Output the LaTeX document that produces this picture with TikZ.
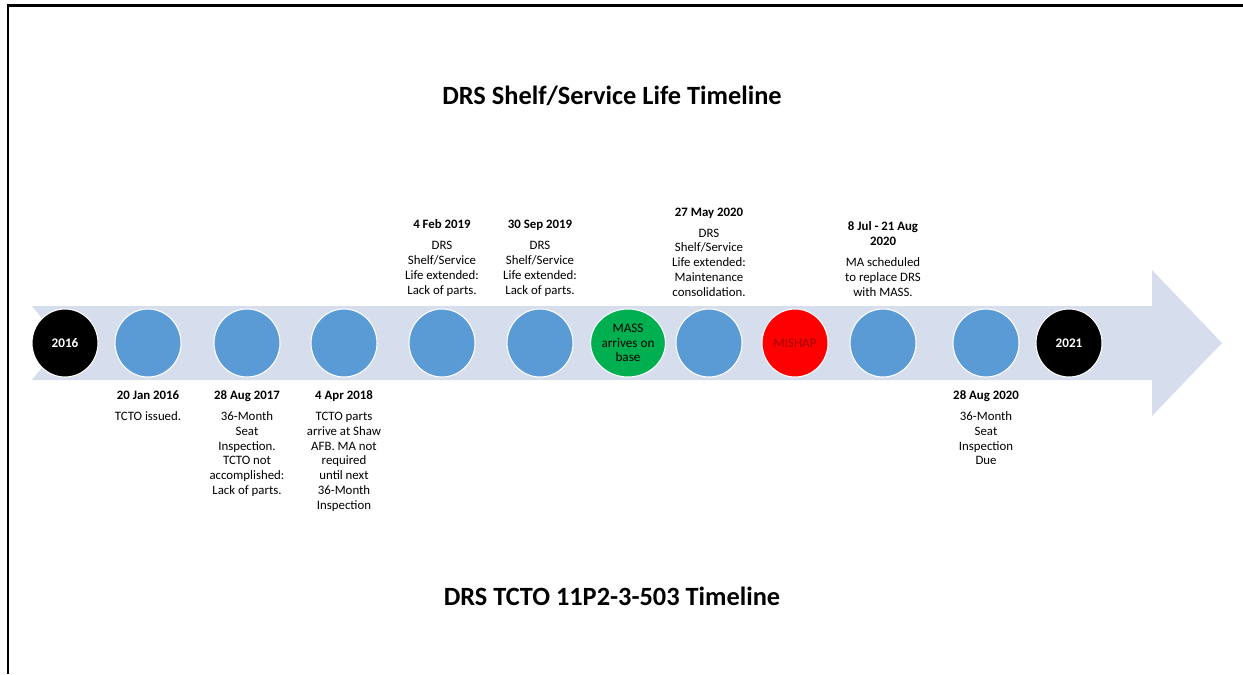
\documentclass[tikz,border=0pt]{standalone}
\usepackage{fontspec}
\setmainfont{Carlito}
\usetikzlibrary{positioning,shapes.geometric}
\definecolor{TLarrow}{RGB}{214, 222, 238}
\definecolor{TLblue}{RGB}{91, 155, 213}
\definecolor{TLgreen}{RGB}{0, 176, 80}
\definecolor{TLred}{RGB}{255, 0, 0}
\definecolor{TLdarkred}{RGB}{160, 0, 0}
\tikzset{
	event/.style={ellipse, draw=white, line width=0.6pt, minimum width=1.32cm, minimum height=1.36cm, inner sep=0pt, align=center, font={\fontsize{7.5}{8.4}\selectfont}},
	note/.style={align=center, inner sep=0pt, font={\fontsize{7.3}{8.4}\selectfont}},
	heading/.style={font={\fontsize{15}{18}\selectfont\bfseries}}
}

\begin{document}
\begin{tikzpicture}[x=0.02cm, y=-0.02cm]
	\useasboundingbox (0,0) rectangle (1243,674);
	\draw[line width=0.06cm] (8,674) -- (8,5) -- (1243,5);
	\fill[TLarrow] (32,306) -- (1152,306) -- (1152,270) -- (1222,343) -- (1152,416) -- (1152,380) -- (32,380) -- (62,343) -- cycle;
	\node[heading] (title) at (612,96) {DRS Shelf/Service Life Timeline};
	\node[heading] (tcto) at (612,596) {DRS TCTO 11P2-3-503 Timeline};
	\node[event, fill=black, text=white, font={\fontsize{7.5}{8.4}\selectfont\bfseries}] (y2016) at (65,343) {2016};
	\node[event, fill=TLblue] (jan16) at (148,343) {};
	\node[event, fill=TLblue] (aug17) at (247,343) {};
	\node[event, fill=TLblue] (apr18) at (344,343) {};
	\node[event, fill=TLblue] (feb19) at (442,343) {};
	\node[event, fill=TLblue] (sep19) at (540,343) {};
	\node[event, fill=TLgreen] (mass) at (628,343) {MASS\\arrives on\\base};
	\node[event, fill=TLblue] (may20) at (709,343) {};
	\node[event, fill=TLred, text=TLdarkred] (mishap) at (795,343) {MISHAP};
	\node[event, fill=TLblue] (jul20) at (883,343) {};
	\node[event, fill=TLblue] (aug20) at (986,343) {};
	\node[event, fill=black, text=white, font={\fontsize{7.5}{8.4}\selectfont\bfseries}] (y2021) at (1069,343) {2021};
	\node[note, below=0.26cm of jan16] (jan16txt) {\textbf{20 Jan 2016}\\[3.5pt]TCTO issued.};
	\node[note, below=0.26cm of aug17] (aug17txt) {\textbf{28 Aug 2017}\\[3.5pt]36-Month\\Seat\\Inspection.\\TCTO not\\accomplished:\\Lack of parts.};
	\node[note, below=0.26cm of apr18] (apr18txt) {\textbf{4 Apr 2018}\\[3.5pt]TCTO parts\\arrive at Shaw\\AFB. MA not\\required\\until next\\36-Month\\Inspection};
	\node[note, below=0.26cm of aug20] (aug20txt) {\textbf{28 Aug 2020}\\[3.5pt]36-Month\\Seat\\Inspection\\Due};
	\node[note, above=0.24cm of feb19] (feb19txt) {\textbf{4 Feb 2019}\\[3.5pt]DRS\\Shelf/Service\\Life extended:\\Lack of parts.};
	\node[note, above=0.24cm of sep19] (sep19txt) {\textbf{30 Sep 2019}\\[3.5pt]DRS\\Shelf/Service\\Life extended:\\Lack of parts.};
	\node[note, above=0.24cm of may20] (may20txt) {\textbf{27 May 2020}\\[3.5pt]DRS\\Shelf/Service\\Life extended:\\Maintenance\\consolidation.};
	\node[note, above=0.24cm of jul20] (jul20txt) {\textbf{8 Jul - 21 Aug}\\\textbf{2020}\\[3.5pt]MA scheduled\\to replace DRS\\with MASS.};
\end{tikzpicture}
\end{document}
